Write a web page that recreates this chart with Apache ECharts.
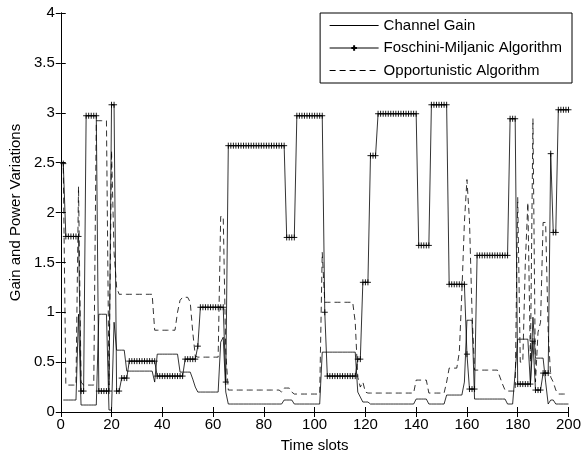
<!DOCTYPE html>
<html>
<head>
<meta charset="utf-8">
<script src="https://cdn.jsdelivr.net/npm/echarts@6/dist/echarts.min.js"></script>
<style>
html,body{margin:0;padding:0;background:#fff;}
#chart{width:584px;height:458px;}
</style>
</head>
<body>
<div id="chart"></div>
<script>
// Time slots 1..200
var channelGain = [
0.12,0.12,0.12,0.12,0.12,0.12,0.98,0.07,0.07,0.07,
0.07,0.07,0.07,0.07,0.98,0.98,0.98,0.98,0.02,0.02,
0.90,0.62,0.62,0.62,0.62,0.41,0.41,0.41,0.41,0.41,
0.41,0.41,0.41,0.41,0.41,0.41,0.30,0.58,0.58,0.58,
0.58,0.58,0.58,0.58,0.58,0.58,0.40,0.40,0.40,0.40,
0.40,0.33,0.25,0.20,0.20,0.20,0.20,0.20,0.20,0.20,
0.20,0.20,0.70,0.75,0.20,0.08,0.08,0.08,0.08,0.08,
0.08,0.08,0.08,0.08,0.08,0.08,0.08,0.08,0.08,0.08,
0.08,0.08,0.08,0.08,0.08,0.08,0.08,0.12,0.12,0.12,
0.12,0.08,0.08,0.08,0.08,0.08,0.08,0.08,0.08,0.08,
0.08,0.08,0.60,0.60,0.60,0.60,0.60,0.60,0.60,0.60,
0.60,0.60,0.60,0.60,0.60,0.60,0.20,0.15,0.10,0.10,
0.10,0.08,0.08,0.08,0.08,0.08,0.08,0.08,0.08,0.08,
0.08,0.08,0.08,0.08,0.08,0.08,0.08,0.08,0.08,0.13,
0.13,0.13,0.13,0.13,0.08,0.08,0.08,0.08,0.08,0.08,
0.08,0.17,0.17,0.17,0.17,0.17,0.17,0.17,0.30,0.92,
0.92,0.92,0.13,0.13,0.13,0.13,0.13,0.13,0.13,0.13,
0.13,0.13,0.13,0.13,0.13,0.08,0.08,0.08,0.40,0.73,
0.73,0.73,0.73,0.73,0.28,0.95,0.54,0.54,0.54,0.54,
0.30,0.08,0.12,0.12,0.08,0.08,0.08,0.08,0.08,0.08
];
var foschiniMiljanic = [
2.49,1.76,1.76,1.76,1.76,1.76,1.76,0.21,0.21,2.97,
2.97,2.97,2.97,2.97,0.21,0.21,0.21,0.21,0.21,3.08,
3.08,0.21,0.21,0.34,0.34,0.34,0.51,0.51,0.51,0.51,
0.51,0.51,0.51,0.51,0.51,0.51,0.51,0.36,0.36,0.36,
0.36,0.36,0.36,0.36,0.36,0.36,0.36,0.36,0.53,0.53,
0.53,0.53,0.53,0.66,1.05,1.05,1.05,1.05,1.05,1.05,
1.05,1.05,1.05,1.05,0.30,2.67,2.67,2.67,2.67,2.67,
2.67,2.67,2.67,2.67,2.67,2.67,2.67,2.67,2.67,2.67,
2.67,2.67,2.67,2.67,2.67,2.67,2.67,2.67,1.75,1.75,
1.75,1.75,2.97,2.97,2.97,2.97,2.97,2.97,2.97,2.97,
2.97,2.97,2.97,1.00,0.36,0.36,0.36,0.36,0.36,0.36,
0.36,0.36,0.36,0.36,0.36,0.36,0.53,0.53,1.30,1.30,
1.30,2.57,2.57,2.57,2.99,2.99,2.99,2.99,2.99,2.99,
2.99,2.99,2.99,2.99,2.99,2.99,2.99,2.99,2.99,2.99,
1.67,1.67,1.67,1.67,1.67,3.08,3.08,3.08,3.08,3.08,
3.08,3.08,1.28,1.28,1.28,1.28,1.28,1.28,1.28,0.58,
0.23,0.23,0.23,1.57,1.57,1.57,1.57,1.57,1.57,1.57,
1.57,1.57,1.57,1.57,1.57,1.57,2.94,2.94,2.94,0.28,
0.28,0.28,0.28,0.28,0.28,0.71,0.22,0.22,0.22,0.39,
0.39,0.39,2.59,1.80,1.80,3.03,3.03,3.03,3.03,3.03
];
var opportunistic = [
2.45,0.27,0.27,0.27,0.27,0.27,2.26,0.30,0.27,0.27,
0.27,0.27,0.27,2.92,2.92,2.92,2.92,2.92,0.27,2.62,
1.60,1.25,1.18,1.18,1.18,1.18,1.18,1.18,1.18,1.18,
1.18,1.18,1.18,1.18,1.18,1.18,0.82,0.82,0.82,0.82,
0.82,0.82,0.82,0.82,0.82,1.00,1.12,1.15,1.15,1.15,
1.10,0.80,0.56,0.55,0.55,0.55,0.55,0.55,0.55,0.55,
0.55,0.55,1.96,1.96,0.60,0.22,0.22,0.22,0.22,0.22,
0.22,0.22,0.22,0.22,0.22,0.22,0.22,0.22,0.22,0.22,
0.22,0.22,0.22,0.22,0.22,0.22,0.20,0.24,0.24,0.24,
0.20,0.18,0.18,0.18,0.18,0.18,0.18,0.18,0.18,0.18,
0.18,0.18,1.60,1.10,1.10,1.10,1.10,1.10,1.10,1.10,
1.10,1.10,1.10,1.10,1.10,0.90,0.35,0.25,0.30,0.20,
0.19,0.19,0.19,0.19,0.19,0.19,0.19,0.19,0.19,0.19,
0.19,0.19,0.19,0.19,0.19,0.19,0.19,0.19,0.19,0.32,
0.32,0.32,0.32,0.32,0.19,0.19,0.19,0.19,0.19,0.19,
0.19,0.30,0.44,0.44,0.44,0.44,0.60,1.20,1.90,2.33,
1.92,1.00,0.42,0.42,0.42,0.42,0.42,0.42,0.42,0.42,
0.42,0.42,0.35,0.28,0.22,0.21,0.21,0.21,0.21,2.15,
0.50,0.50,1.50,2.10,0.50,2.94,0.30,0.80,0.90,1.90,
1.90,0.80,0.35,0.30,0.22,0.18,0.18,0.18,0.18,0.18
];
var xTicks = [0, 200, 20];   // min, max, interval
var yTicks = [0, 4, 0.5];
var seriesNames = ['Channel Gain', 'Foschini-Miljanic Algorithm', 'Opportunistic Algorithm'];

function pairs(arr){ return arr.map(function(v,i){ return [i+1, v]; }); }

var FONT = 'Liberation Sans, Arial, sans-serif';
var axisCommon = {
  axisLine:{show:true, lineStyle:{color:'#000', width:1}},
  axisTick:{show:true, inside:true, length:5, lineStyle:{color:'#000', width:1}},
  splitLine:{show:false},
};
function ax(extra){ return Object.assign({}, JSON.parse(JSON.stringify(axisCommon)), extra); }

var LINE_C = '#000', LINE_W = 0.8;

var chart = echarts.init(document.getElementById('chart'), null, {renderer:'canvas'});
chart.setOption({
  animation:false,
  backgroundColor:'#fff',
  textStyle:{fontFamily:FONT},
  grid:{left:59, right:12, top:13, bottom:41},
  xAxis:[
    ax({type:'value', min:xTicks[0], max:xTicks[1], interval:xTicks[2], position:'bottom',
        name:'Time slots', nameLocation:'middle', nameGap:26,
        nameTextStyle:{color:'#000', fontSize:15, fontFamily:FONT},
        axisLabel:{color:'#000', fontSize:15, fontFamily:FONT, margin:5}}),
    ax({type:'value', min:xTicks[0], max:xTicks[1], interval:xTicks[2], position:'top',
        axisLabel:{show:false}})
  ],
  yAxis:[
    ax({type:'value', min:yTicks[0], max:yTicks[1], interval:yTicks[2], position:'left',
        name:'Gain and Power Variations', nameLocation:'middle', nameGap:36,
        nameTextStyle:{color:'#000', fontSize:15, fontFamily:FONT},
        axisLabel:{color:'#000', fontSize:15, fontFamily:FONT, margin:6}}),
    ax({type:'value', min:yTicks[0], max:yTicks[1], interval:yTicks[2], position:'right',
        axisLabel:{show:false}})
  ],
  legend:{
    orient:'vertical', right:12, top:13,
    data:[
      {name:seriesNames[0], itemStyle:{opacity:0}},
      {name:seriesNames[1]},
      {name:seriesNames[2], itemStyle:{opacity:0}}
    ],
    backgroundColor:'#fff', borderColor:'#000', borderWidth:1, borderRadius:0,
    padding:[5,10,5,9],
    itemWidth:49, itemHeight:7, itemGap:7.5,
    lineStyle:{width:1},
    textStyle:{color:'#000', fontSize:15, fontFamily:FONT, lineHeight:15}
  },
  series:[
    {name:seriesNames[0], type:'line', data:pairs(channelGain), showSymbol:false, symbol:'none',
     lineStyle:{color:LINE_C, width:LINE_W}, itemStyle:{color:LINE_C}, z:2},
    {name:seriesNames[1], type:'line', data:pairs(foschiniMiljanic),
     symbol:'path://M0,5L10,5M5,0L5,10', symbolSize:6, showSymbol:true,
     lineStyle:{color:LINE_C, width:LINE_W},
     itemStyle:{color:'none', borderColor:'#000', borderWidth:0.9}, z:3},
    {name:seriesNames[2], type:'line', data:pairs(opportunistic), showSymbol:false, symbol:'none',
     lineStyle:{color:LINE_C, width:LINE_W, type:[6,4]}, itemStyle:{color:LINE_C}, z:4}
  ]
});
</script>
</body>
</html>
